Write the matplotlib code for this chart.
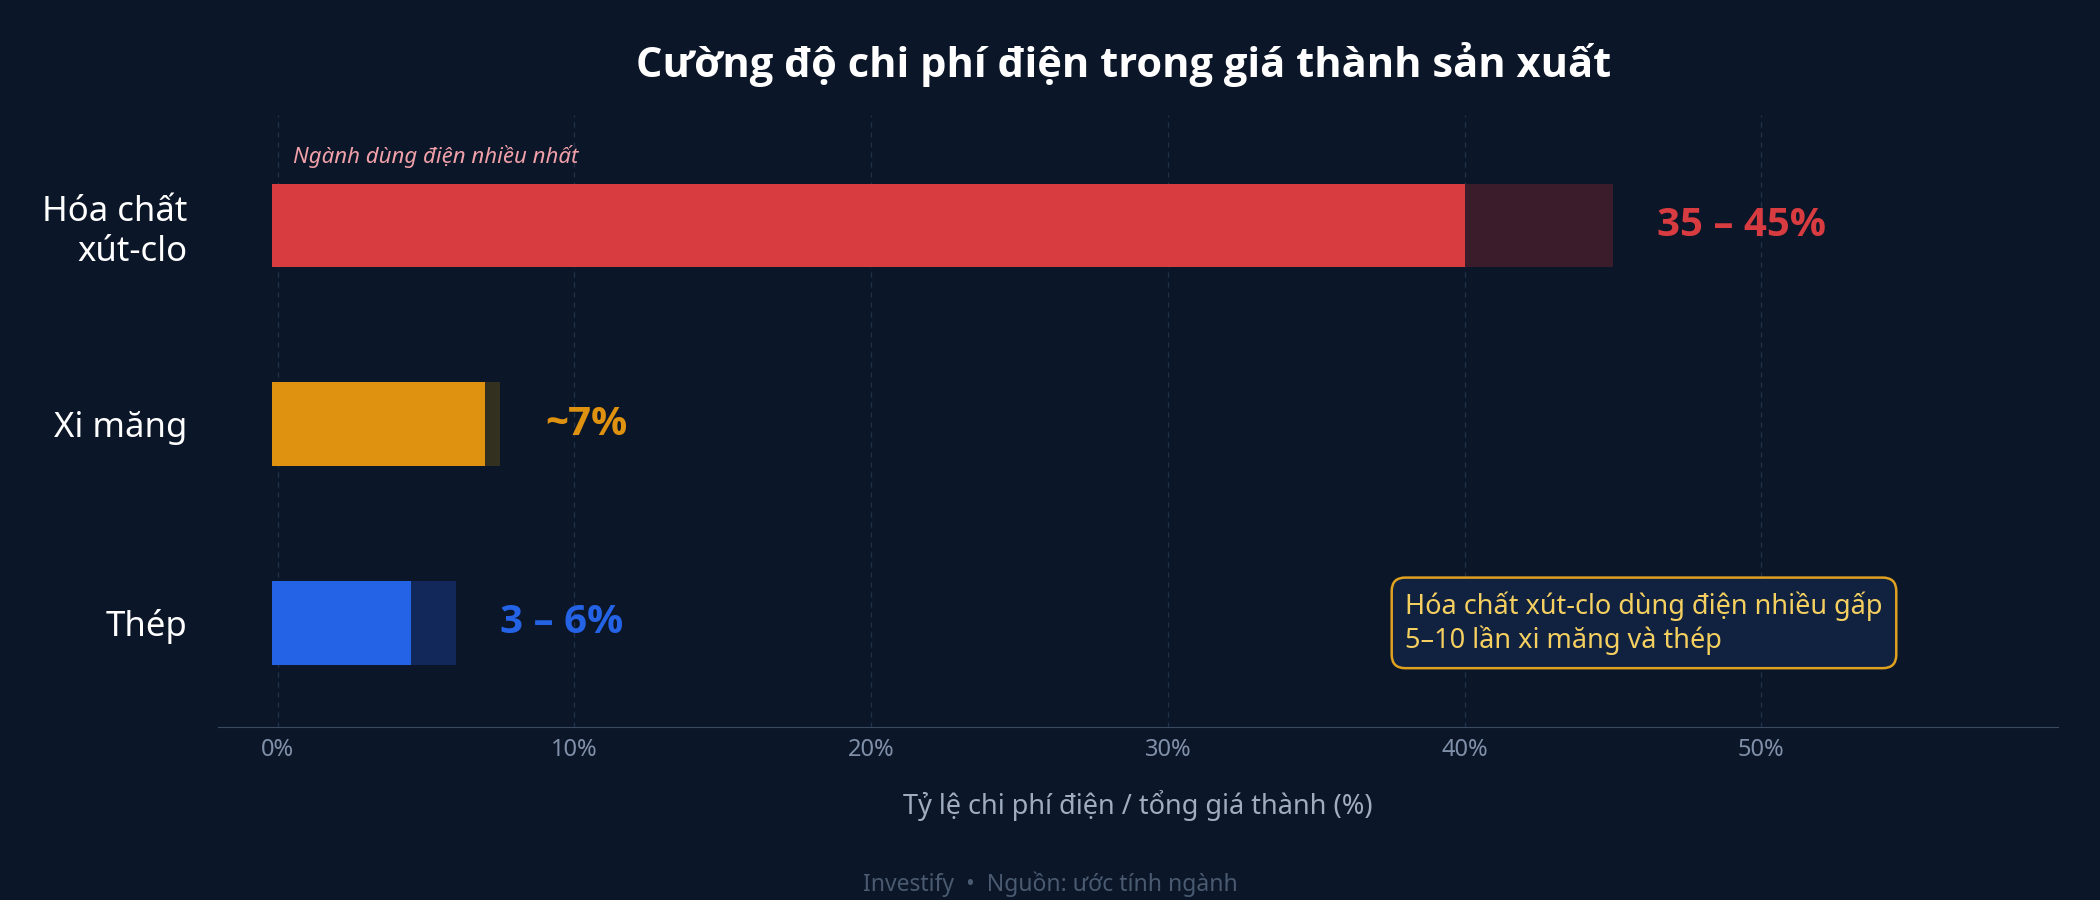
import matplotlib
matplotlib.use("Agg")
import matplotlib.pyplot as plt
from matplotlib import font_manager

bold_ok = any(f.name == 'Noto Sans' and f.weight in (700, 'bold') for f in font_manager.fontManager.ttflist)
BOLD = ['Noto Sans', 'DejaVu Sans'] if bold_ok else ['Open Sans', 'DejaVu Sans']
plt.rcParams['font.family'] = ['Noto Sans', 'DejaVu Sans']

categories = ["Hóa chất\nxút-clo", "Xi măng", "Thép"]
low = [40, 7, 4.5]
high = [45, 7.5, 6]
labels = ["35 – 45%", "~7%", "3 – 6%"]
colors = ["#d93c40", "#df920f", "#2563e6"]
dark = ["#3a1c2a", "#33301f", "#13285a"]
ticks = [0, 10, 20, 30, 40, 50]
label_x = [46.5, 9, 7.5]

bg = "#0b1628"
fig = plt.figure(figsize=(21, 9), dpi=100, facecolor=bg)
ax = fig.add_axes([0.104, 0.192, 0.876, 0.68], facecolor=bg)

x0 = -0.2
for i in range(3):
    ax.barh(i, high[i] - x0, left=x0, height=0.42, color=dark[i], zorder=2)
    ax.barh(i, low[i] - x0, left=x0, height=0.42, color=colors[i], zorder=3)
    ax.text(label_x[i], i, labels[i], color=colors[i], fontsize=29, fontweight='bold',
            family=BOLD, va='center', ha='left', zorder=4)

ax.text(0.5, -0.29, "Ngành dùng điện nhiều nhất", color="#f0a0a8", fontsize=16,
        style='italic', va='bottom', ha='left')

ax.set_xlim(-2, 60)
ax.set_ylim(2.525, -0.555)
ax.set_yticks(range(3))
ax.set_yticklabels(categories, color="white", fontsize=25, linespacing=1.2)
ax.set_xticks(ticks)
ax.set_xticklabels([f"{t}%" for t in ticks], color="#8090a8", fontsize=17)
ax.tick_params(axis='x', length=0, pad=8)
ax.tick_params(axis='y', length=0, pad=22)
ax.grid(axis='x', color="#22324a", linestyle=(0, (4, 4)), linewidth=0.9, zorder=0)
for s in ['top', 'right', 'left']:
    ax.spines[s].set_visible(False)
ax.spines['bottom'].set_color("#3a4a60")
ax.set_xlabel("Tỷ lệ chi phí điện / tổng giá thành (%)", color="#a0acc0", fontsize=19.5, labelpad=20)

ax.text(38.0, 2.0, "Hóa chất xút-clo dùng điện nhiều gấp\n5–10 lần xi măng và thép",
        color="#f5d060", fontsize=19.5, va='center', ha='left', linespacing=1.2,
        bbox=dict(boxstyle="round,pad=0.5,rounding_size=0.5", fc="#10223f", ec="#e0a020", lw=1.8),
        zorder=5)

fig.text(0.535, 0.928, "Cường độ chi phí điện trong giá thành sản xuất", color="white",
         fontsize=30, fontweight='bold', family=BOLD, ha='center', va='center')
fig.text(0.5, 0.018, "Investify  •  Nguồn: ước tính ngành", color="#4a5a70",
         fontsize=16.5, ha='center', va='center')

fig.savefig("out.png", facecolor=bg)
